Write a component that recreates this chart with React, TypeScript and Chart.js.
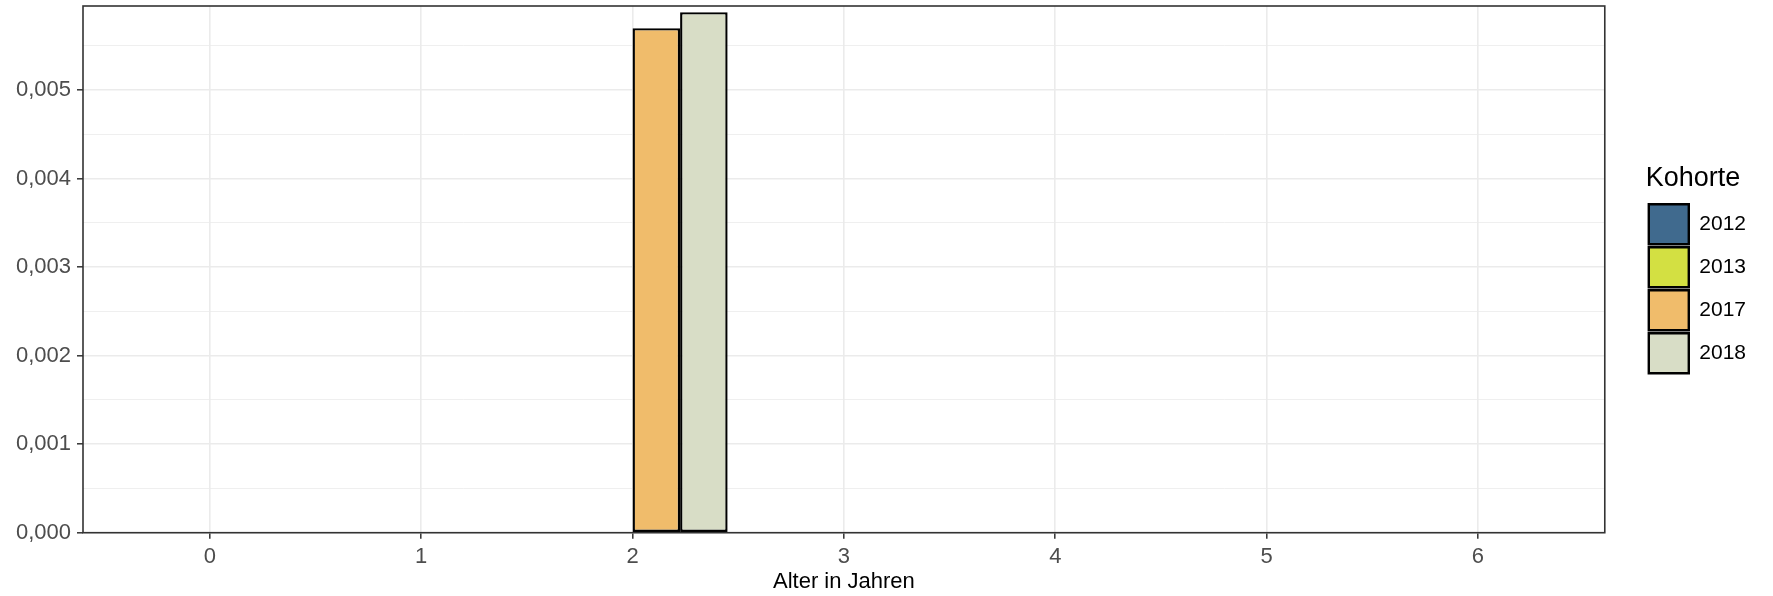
import React, { useEffect, useRef } from 'react';
import { Chart, registerables } from 'chart.js';

Chart.register(...registerables);

// ---- data ----
const ages = [0, 1, 2, 3, 4, 5, 6];
const cohorts = ['2012', '2013', '2017', '2018'];
const values2012 = [0, 0, 0, 0, 0, 0, 0];
const values2013 = [0, 0, 0, 0, 0, 0, 0];
const values2017 = [0, 0, 0.0057, 0, 0, 0, 0];
const values2018 = [0, 0, 0.00588, 0, 0, 0, 0];
const cohortColors = ['#406A8E', '#D3E042', '#F0BC6B', '#D8DDC6'];
const yTickValues = [0, 0.0005, 0.001, 0.0015, 0.002, 0.0025, 0.003, 0.0035, 0.004, 0.0045, 0.005, 0.0055];
const yMajorTicks = [0, 0.001, 0.002, 0.003, 0.004, 0.005];
const xTickValues = [0, 1, 2, 3, 4, 5, 6];
const xTitle = 'Alter in Jahren';
const legendTitle = 'Kohorte';

const FONT = "'Liberation Sans', Arial, Helvetica, sans-serif";

const isMajor = (v: number) => yMajorTicks.some((m) => Math.abs(m - v) < 1e-9);

const panelBorder = {
  id: 'panelBorder',
  afterDraw(chart: any) {
    const { ctx, chartArea: a } = chart;
    ctx.save();
    ctx.strokeStyle = '#333333';
    ctx.lineWidth = 1.6;
    ctx.strokeRect(a.left, a.top, a.right - a.left, a.bottom - a.top);
    ctx.restore();
  },
};

export default function App() {
  const ref = useRef<HTMLCanvasElement | null>(null);

  useEffect(() => {
    if (!ref.current) return;
    const series = [values2012, values2013, values2017, values2018];
    const datasets = cohorts.map((c, i) => ({
      label: c,
      data: ages.map((a, j) => ({ x: a, y: series[i][j] })),
      backgroundColor: cohortColors[i],
      borderColor: '#000000',
      borderWidth: 2.4,
      borderSkipped: false,
      barPercentage: 1,
      categoryPercentage: 0.9,
    }));

    const chart = new Chart(ref.current, {
      type: 'bar',
      data: { datasets } as any,
      plugins: [panelBorder],
      options: {
        responsive: false,
        animation: false,
        events: [],
        layout: { padding: { top: 6, right: 17, bottom: 0, left: 0 } },
        plugins: {
          tooltip: { enabled: false },
          legend: {
            position: 'right',
            align: 'start',
            title: {
              display: true,
              text: legendTitle,
              position: 'start',
              color: '#000000',
              font: { family: FONT, size: 27 },
              padding: { top: 158.8, bottom: 4.1 },
            } as any,
            labels: {
              boxWidth: 40,
              boxHeight: 40,
              padding: 3,
              color: '#000000',
              font: { family: FONT, size: 21 },
            },
          },
        },
        scales: {
          x: {
            type: 'linear',
            min: -0.6,
            max: 6.6,
            offset: false,
            afterBuildTicks: (s: any) => {
              s.ticks = xTickValues.map((v) => ({ value: v }));
            },
            afterFit: (s: any) => {
              s.height = 63.3;
              s.paddingLeft = 0;
              s.paddingRight = 0;
            },
            grid: {
              offset: false,
              color: '#EBEBEB',
              lineWidth: 1.6,
              tickLength: 6,
              tickColor: '#333333',
              tickWidth: 1.5,
            },
            border: { display: false },
            ticks: {
              color: '#4D4D4D',
              font: { family: FONT, size: 22 },
              padding: 5,
              autoSkip: false,
              maxRotation: 0,
              callback: (v: any) => String(v),
            },
            title: {
              display: true,
              text: xTitle,
              color: '#000000',
              font: { family: FONT, size: 22 },
              padding: { top: 0, bottom: 1 },
            },
          } as any,
          y: {
            type: 'linear',
            min: 0,
            max: 0.00595,
            afterBuildTicks: (s: any) => {
              s.ticks = yTickValues.map((v) => ({ value: v }));
            },
            afterFit: (s: any) => {
              s.width = 83;
              s.paddingTop = 0;
              s.paddingBottom = 0;
            },
            grid: {
              color: '#EBEBEB',
              lineWidth: (ctx: any) => (ctx.tick && isMajor(ctx.tick.value) ? 1.6 : 0.8),
              tickLength: 6,
              tickColor: (ctx: any) => (ctx.tick && isMajor(ctx.tick.value) ? '#333333' : 'rgba(0,0,0,0)'),
              tickWidth: 1.5,
            },
            border: { display: false },
            ticks: {
              color: '#4D4D4D',
              font: { family: FONT, size: 22 },
              padding: 6,
              autoSkip: false,
              callback: (v: any) => (isMajor(Number(v)) ? Number(v).toFixed(3).replace('.', ',') : ''),
            },
          } as any,
          pad: {
            type: 'linear',
            position: 'right',
            display: true,
            grid: { display: false },
            border: { display: false },
            ticks: { display: false },
            afterFit: (s: any) => {
              s.width = 41;
            },
          } as any,
        },
      } as any,
    });
    return () => chart.destroy();
  }, []);

  return (
    <div style={{ position: 'absolute', left: 0, top: 0, width: 1773, height: 596, background: '#ffffff' }}>
      <canvas ref={ref} width={1773} height={596} style={{ display: 'block', width: 1773, height: 596 }} />
    </div>
  );
}
